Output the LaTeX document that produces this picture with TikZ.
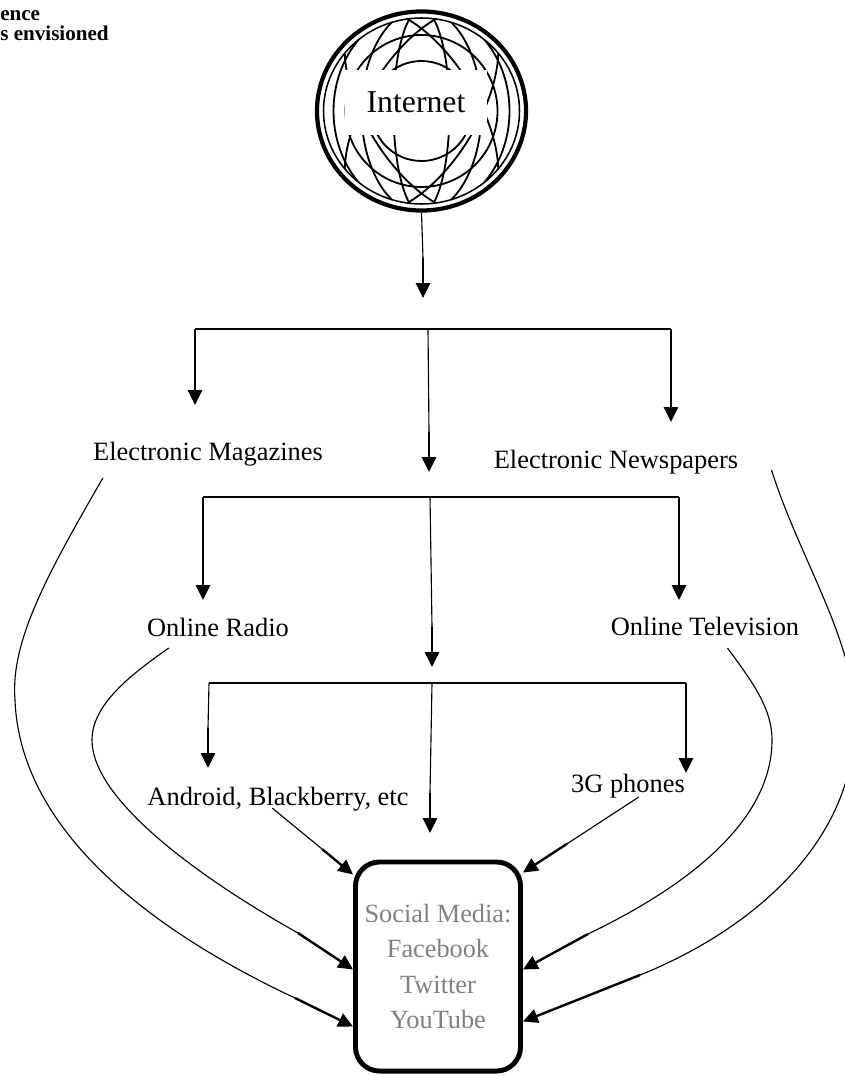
\documentclass[tikz,border=0pt]{standalone}
\usepackage{fontspec}
\setmainfont{Liberation Serif}
\usetikzlibrary{arrows.meta,calc,shapes.geometric}
\definecolor{medialabel}{RGB}{128,128,128}

\tikzset{
  wire/.style={line width=0.8pt},
  tipseg/.style={line width=1.7pt,-{Triangle[length=10.5pt,width=10pt]}},
  gridline/.style={line width=1.3pt},
  globe/.style={ellipse,draw,line width=3pt,minimum width=5.225cm,minimum height=4.975cm,inner sep=0pt},
  netbox/.style={fill=white,minimum width=3.55cm,minimum height=1.625cm,inner sep=0pt,font=\fontsize{22.6}{27}\selectfont},
  lbl/.style={anchor=base,inner sep=0pt,font=\fontsize{18.8}{22}\selectfont},
  note/.style={anchor=base west,inner sep=0pt,font=\fontsize{15}{18}\selectfont\bfseries},
  smbox/.style={draw,line width=3.5pt,rounded corners=0.6cm,minimum width=4.125cm,minimum height=5.225cm,
    align=center,text=medialabel,font=\fontsize{18.7}{25.2}\selectfont}
}

\begin{document}
\begin{tikzpicture}[x=0.025cm,y=-0.025cm]
\useasboundingbox (0,0) rectangle (845,1076);
\clip (0,0) rectangle (845,1076);

% cut-off caption at top left
\node[note] (capa) at (0,21) {ence};
\node[note] (capb) at (0,41) {s envisioned};

% Internet globe
\node[globe] (net) at (421.5,111) {};
\begin{scope}
  \clip (net.center) ellipse [x radius=98, y radius=93];
  \foreach \r in {50,76}
    \draw[gridline] (net.center) circle [radius=\r];
  \foreach \rx in {28,60,88}
    \draw[gridline] (net.center) ellipse [x radius=\rx, y radius=102];
  \draw[gridline,rotate around={32:(net.center)}] (net.center) ellipse [x radius=55, y radius=115];
  \draw[gridline,rotate around={-32:(net.center)}] (net.center) ellipse [x radius=55, y radius=115];
\end{scope}
\draw[line width=1.1pt] (net.center) ellipse [x radius=98, y radius=93];
\node[netbox] (nettxt) at (416,102.5) {Internet};

% labels
\node[lbl] (emag) at (208,460) {Electronic Magazines};
\node[lbl] (enews) at (616,468) {Electronic Newspapers};
\node[lbl] (radio) at (218,636) {Online Radio};
\node[lbl] (tv) at (705,635) {Online Television};
\node[lbl] (andr) at (278,805) {Android, Blackberry, etc};
\node[lbl] (threeg) at (628,792) {3G phones};

% social media box
\node[smbox] (sm) at (438,966.5) {Social Media:\\Facebook\\Twitter\\YouTube};

% brackets
\foreach \n/\l/\m/\r/\y in {1/195/428/671/329, 2/203/430/679/497, 3/209/432/686/683} {
  \coordinate (bl\n) at (\l,\y);
  \coordinate (bm\n) at (\m,\y);
  \coordinate (br\n) at (\r,\y);
  \draw[wire] (bl\n) -- (br\n);
}

% arrow tips
\coordinate (stemtip) at (423,298);
\coordinate (tl1) at (195,405);
\coordinate (tm1) at (429,472);
\coordinate (tr1) at (671,422);
\coordinate (tl2) at (203,600);
\coordinate (tm2) at (432,667);
\coordinate (tr2) at (679,600);
\coordinate (tl3) at (208,768);
\coordinate (tm3) at (430,833);
\coordinate (tr3) at (686,773);

% vertical arrows: thin shaft, thick end
\foreach \a/\b in {net.south/stemtip, bl1/tl1, bm1/tm1, br1/tr1, bl2/tl2, bm2/tm2, br2/tr2, bl3/tl3, bm3/tm3, br3/tr3} {
  \draw[wire] (\a) -- ($(\b)+(0,-40)$);
  \draw[tipseg] ($(\b)+(0,-40)$) -- (\b);
}

% straight arrows into the box
\coordinate (androut) at ($(andr.base west)+(125,3)$);
\coordinate (andrin) at ($(sm.north west)+(0,15)$);
\coordinate (threegout) at ($(threeg.base west)+(68,5)$);
\coordinate (threegin) at ($(sm.north east)+(0,13)$);
\foreach \a/\b in {androut/andrin, threegout/threegin} {
  \draw[wire] (\a) -- ($(\a)!0.62!(\b)$);
  \draw[tipseg] ($(\a)!0.62!(\b)$) -- (\b);
}

% curved arrows into the box
\coordinate (emagout) at ($(emag.base west)+(10,18)$);
\coordinate (emagk) at (295,998);
\coordinate (emagin) at ($(sm.west)+(0,60)$);
\draw[wire] (emagout) .. controls (50,570) and (10,640) .. (15,700)
  .. controls (20,830) and (150,930) .. (emagk);
\draw[tipseg] (emagk) -- (emagin);

\coordinate (radioout) at ($(radio.base west)+(22,12)$);
\coordinate (radiok) at (298,933);
\coordinate (radioin) at ($(sm.west)+(0,3)$);
\draw[wire] (radioout) .. controls (130,675) and (92,705) .. (92,740)
  .. controls (92,800) and (200,878) .. (radiok);
\draw[tipseg] (radiok) -- (radioin);

\coordinate (tvout) at ($(tv.base east)+(-72,13)$);
\coordinate (tvk) at (588,934);
\coordinate (tvin) at ($(sm.east)+(0,3)$);
\draw[wire] (tvout) .. controls (755,685) and (772,710) .. (772,740)
  .. controls (772,820) and (690,885) .. (tvk);
\draw[tipseg] (tvk) -- (tvin);

\coordinate (enewsout) at ($(enews.base east)+(33,2)$);
\coordinate (enewsk) at (640,975);
\coordinate (enewsin) at ($(sm.east)+(0,55)$);
\draw[wire] (enewsout) .. controls (800,560) and (855,640) .. (855,720)
  .. controls (855,850) and (740,935) .. (enewsk);
\draw[tipseg] (enewsk) -- (enewsin);
\end{tikzpicture}
\end{document}
